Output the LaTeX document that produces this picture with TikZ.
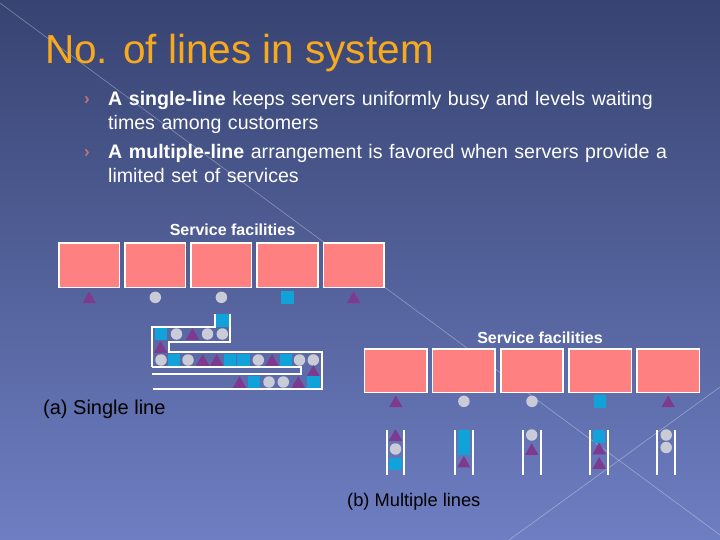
\documentclass[tikz,border=0pt]{standalone}
\usepackage{xcolor}
\usepackage{fontspec}
\setmainfont{Liberation Sans}
\usepackage{tikz}
\usetikzlibrary{positioning,shapes.geometric}

\definecolor{bgtop}{HTML}{374371}
\definecolor{bgbot}{HTML}{6E7EC2}
\definecolor{titleor}{HTML}{F8AA1F}
\definecolor{srvpink}{HTML}{FF8080}
\definecolor{custblue}{HTML}{12A2DA}
\definecolor{custpurple}{HTML}{7D3A8E}
\definecolor{custgrey}{HTML}{C9CCD7}
\definecolor{bulred}{HTML}{C4707C}

\begin{document}
\begin{tikzpicture}[x=1pt,y=-1pt]

		\tikzset{
			srv/.style={draw=white, line width=1.6pt, fill=srvpink, inner sep=0pt,
				minimum width=60.5pt, minimum height=44.5pt},
			srvb/.style={srv, minimum width=62.5pt, minimum height=43.5pt},
			tri/.style={regular polygon, regular polygon sides=3, fill=custpurple,
				minimum size=15.5pt, inner sep=0pt, yshift=-1.9pt},
			dot/.style={circle, fill=custgrey, minimum size=11.5pt, inner sep=0pt},
			sq/.style={rectangle, fill=custblue, minimum size=12.5pt, inner sep=0pt},
			lane/.style={draw=white, line width=2pt},
			bultext/.style={anchor=base west, inner sep=0pt, text=white, text width=610pt,
				align=left, font=\fontsize{19.6}{24}\selectfont},
			bulmark/.style={anchor=base west, inner sep=0pt, text=bulred,
				font=\bfseries\fontsize{17}{19}\selectfont},
			faclabel/.style={inner sep=0pt, text=white, font=\bfseries\fontsize{16}{18}\selectfont},
			caption/.style={anchor=base west, inner sep=0pt, text=black}
		}

		% ===== NỀN =====
		\useasboundingbox (0,0) rectangle (720,540);
		\shade[top color=bgtop, bottom color=bgbot] (0,0) rectangle (720,540);
		\draw[white, opacity=0.35, line width=0.6pt] (0,3) -- (720,535);
		\draw[white, opacity=0.35, line width=0.6pt] (509,540) -- (720,387);

		% ===== TIÊU ĐỀ + GẠCH ĐẦU DÒNG =====
		\node[anchor=base west, inner sep=0pt, text=titleor, font=\fontsize{40.5}{48}\selectfont]
		(title) at (45,64) {No. of lines in system};

		\node[bulmark] (m1) at (84,105) {›};
		\node[bultext] (b1) at (108,106)
		{\textbf{A single-line} keeps servers uniformly busy and levels waiting\\
			times among customers};

		\node[bulmark] (m2) at (84,158) {›};
		\node[bultext] (b2) at (108,159)
		{\textbf{A multiple-line} arrangement is favored when servers provide a\\
			limited set of services};

		% ===== (a) MỘT HÀNG CHỜ =====
		\node[faclabel] (fa) at (232.5,229.5) {Service facilities};

		\node[srv] (sa1) at (89.2,265.3) {};
		\node[srv, right=4pt of sa1] (sa2) {};
		\node[srv, right=4pt of sa2] (sa3) {};
		\node[srv, right=4pt of sa3] (sa4) {};
		\node[srv, right=4pt of sa4] (sa5) {};

		\node[tri] (ua1) at ([yshift=-9pt]sa1.south) {};
		\node[dot] (ua2) at ([yshift=-9pt]sa2.south) {};
		\node[dot] (ua3) at ([yshift=-9pt]sa3.south) {};
		\node[sq]  (ua4) at ([yshift=-9pt]sa4.south) {};
		\node[tri] (ua5) at ([yshift=-9pt]sa5.south) {};

		% hàng rào dạng rắn
		\draw[lane] (152.3,366.7) -- (152.3,326.7) -- (214.5,326.7) -- (214.5,314);
		\draw[lane] (230,314) -- (230,341.7) -- (169,341.7) -- (169,352.3)
		-- (321.7,352.3) -- (321.7,389) -- (153.3,389);
		\draw[lane] (152.3,366.7) -- (300.7,366.7) -- (300.7,374.3) -- (152.3,374.3);

		\node[sq]  (q0) at (222.5,320.5) {};
		\node[sq]  (q1) at (161,334) {};
		\node[dot] (q2) at (176.5,334) {};
		\node[tri] (q3) at (192.5,334) {};
		\node[dot] (q4) at (207.5,334) {};
		\node[dot] (q5) at (222.3,334) {};
		\node[tri] (q6) at (160.5,347) {};
		\node[dot] (q7) at (161,360) {};
		\node[sq]  (q8) at (174,360) {};
		\node[dot] (q9) at (188,360) {};
		\node[tri] (q10) at (202.7,360) {};
		\node[tri] (q11) at (216.7,360) {};
		\node[sq]  (q12) at (230,360) {};
		\node[sq]  (q13) at (243.5,360) {};
		\node[dot] (q14) at (258.3,360) {};
		\node[tri] (q15) at (272,360) {};
		\node[sq]  (q16) at (286,360) {};
		\node[dot] (q17) at (299.5,360) {};
		\node[dot] (q18) at (313.3,360) {};
		\node[tri] (q19) at (313.3,371) {};
		\node[sq]  (q20) at (313.3,382) {};
		\node[tri] (q21) at (298.3,382) {};
		\node[dot] (q22) at (283.3,382) {};
		\node[dot] (q23) at (269,382) {};
		\node[sq]  (q24) at (254,382) {};
		\node[tri] (q25) at (239.5,382) {};

		\node[caption, font=\fontsize{20}{22}\selectfont] (capa) at (43,414) {(a) Single line};

		% ===== (b) NHIỀU HÀNG CHỜ =====
		\node[faclabel] (fb) at (540,337.5) {Service facilities};

		\node[srvb] (sb1) at (395.8,370.8) {};
		\node[srvb, right=4pt of sb1] (sb2) {};
		\node[srvb, right=4pt of sb2] (sb3) {};
		\node[srvb, right=4pt of sb3] (sb4) {};
		\node[srvb, right=4pt of sb4] (sb5) {};

		\node[tri] (ub1) at ([yshift=-8pt]sb1.south) {};
		\node[dot] (ub2) at ([yshift=-8pt]sb2.south) {};
		\node[dot] (ub3) at ([yshift=-8pt]sb3.south) {};
		\node[sq]  (ub4) at ([yshift=-8pt]sb4.south) {};
		\node[tri] (ub5) at ([yshift=-8pt]sb5.south) {};

		% các làn chờ
		\draw[lane] (386.7,430) -- (386.7,475) (404.3,430) -- (404.3,475);
		\draw[lane] (455,430) -- (455,475) (472.7,430) -- (472.7,475);
		\draw[lane] (522.7,430) -- (522.7,475) (540.7,430) -- (540.7,475);
		\draw[lane] (590,430) -- (590,475) (608.3,430) -- (608.3,475);
		\draw[lane] (657.3,430) -- (657.3,475) (675,430) -- (675,475);

		\node[tri] (l1a) at (395.5,435) {};
		\node[dot] (l1b) at (395.5,449) {};
		\node[sq]  (l1c) at (395.5,464) {};

		\node[sq]  (l2a) at (463.8,436.5) {};
		\node[sq]  (l2b) at (463.8,448.5) {};
		\node[tri] (l2c) at (463.8,461.7) {};

		\node[dot] (l3a) at (531.7,435) {};
		\node[tri] (l3b) at (531.7,449) {};

		\node[sq]  (l4a) at (599.2,436.5) {};
		\node[tri] (l4b) at (599.2,448.5) {};
		\node[tri] (l4c) at (599.2,463) {};

		\node[dot] (l5a) at (666.2,435) {};
		\node[dot] (l5b) at (666.2,447.5) {};

		\node[caption, font=\fontsize{18.3}{21}\selectfont] (capb) at (347,506) {(b) Multiple lines};

\end{tikzpicture}
\end{document}
